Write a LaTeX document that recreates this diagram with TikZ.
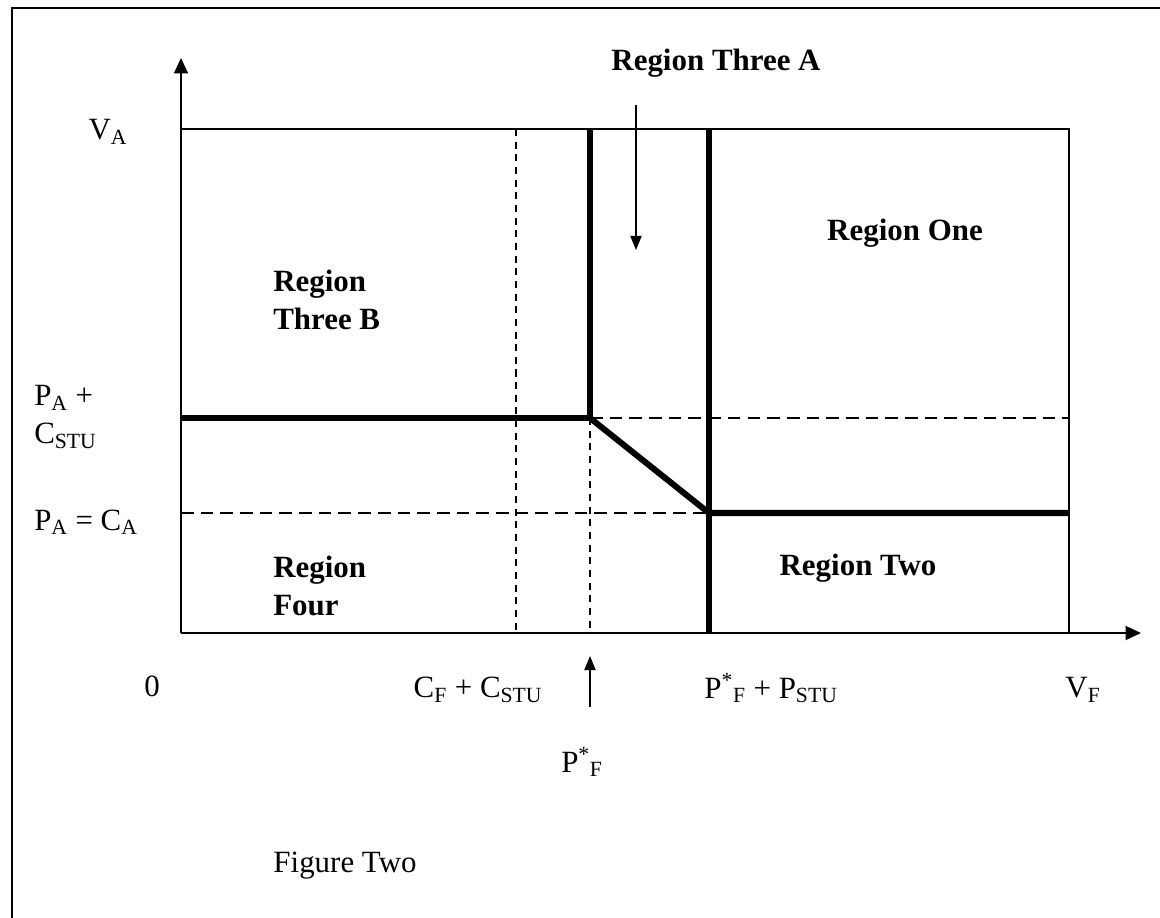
\documentclass[tikz,border=0pt]{standalone}
\usepackage{fontspec}
\setmainfont{Liberation Serif}
\usetikzlibrary{arrows.meta, positioning}
\tikzset{
  % Plot styles
  axisline/.style={line width=1.1pt, -{Triangle[length=11pt, width=10pt]}},
  thinline/.style={line width=0.9pt},
  boundary/.style={line width=4.3pt},
  guide/.style={line width=0.8pt, dash pattern=on 5pt off 4pt},
  longguide/.style={line width=0.8pt, dash pattern=on 9pt off 5pt},
  pointer/.style={line width=0.9pt, -{Triangle[length=10pt, width=8pt]}},
  % Label styles
  region/.style={font=\fontsize{22}{27}\selectfont\bfseries, align=left, inner sep=0pt},
  lbl/.style={font=\fontsize{22}{27}\selectfont, align=left, inner sep=0pt},
}

\begin{document}
\begin{tikzpicture}[x=0.025cm, y=-0.025cm]
    \useasboundingbox (0,0) rectangle (1160,917);

    % Frame
    \draw[line width=1.4pt] (12,940) -- (12,8) -- (1180,8);

    % Axes
    \coordinate (O) at (181,633);
    \coordinate (ytip) at (181,58);
    \coordinate (xtip) at (1141,633);
    \draw[axisline] (O) -- (ytip);
    \draw[axisline] (O) -- (xtip);

    % Box
    \draw[thinline] (181,129) -- (1069,129) -- (1069,633);

    % Guides
    \draw[guide] (516,129) -- (516,633);
    \draw[guide] (590,418) -- (590,633);
    \draw[longguide] (590,418) -- (1069,418);
    \draw[longguide] (181,513) -- (709,513);

    % Boundaries
    \draw[boundary] (181,418) -- (590,418) -- (590,129);
    \draw[boundary] (590,418) -- (709,513) -- (1069,513);
    \draw[boundary] (709,129) -- (709,633);

    % Regions
    \node[region] (r3a) at (716,63) {Region Three A};
    \node[region] (r1) at (905,233) {Region One};
    \node[region, anchor=west] (r3b) at (273,300) {Region\\Three B};
    \node[region, anchor=west] (r4) at (273,586) {Region\\Four};
    \node[region] (r2) at (858,568) {Region Two};

    % Pointers
    \coordinate (r3atop) at (636,105);
    \coordinate (r3aend) at (636,250);
    \draw[pointer] (r3atop) -- (r3aend);

    % Axis labels
    \node[lbl] (va) at (108,132) {V\textsubscript{A}};
    \node[lbl, anchor=west] (pacstu) at (34,417) {P\textsubscript{A} +\\C\textsubscript{STU}};
    \node[lbl, anchor=west] (paca) at (34,522) {P\textsubscript{A} = C\textsubscript{A}};
    \node[lbl] (zero) at (152,686) {0};
    \node[lbl] (cfcstu) at (478,690) {C\textsubscript{F} + C\textsubscript{STU}};
    \node[lbl] (pfpstu) at (771,688) {P\textsuperscript{*}\textsubscript{F} + P\textsubscript{STU}};
    \node[lbl] (vf) at (1083,690) {V\textsubscript{F}};
    \node[lbl] (pf) at (582,762) {P\textsuperscript{*}\textsubscript{F}};

    \coordinate (pftail) at (590,707);
    \coordinate (pfhead) at (590,656);
    \draw[pointer] (pftail) -- (pfhead);

    % Caption
    \node[lbl] (caption) at (345,866) {Figure Two};
\end{tikzpicture}
\end{document}
